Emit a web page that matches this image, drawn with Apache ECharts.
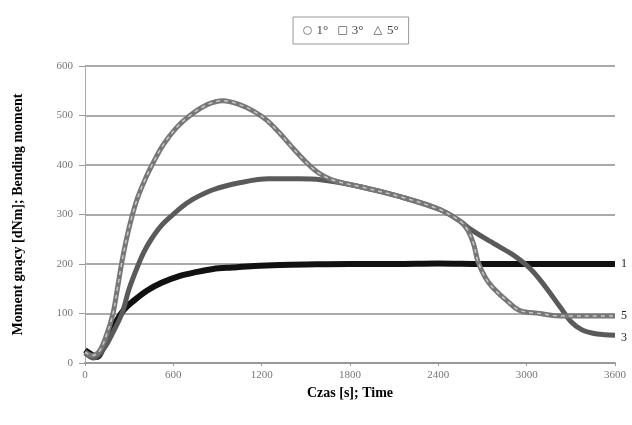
<!DOCTYPE html>
<html>
<head>
<meta charset="utf-8">
<script src="https://cdn.jsdelivr.net/npm/echarts@6/dist/echarts.min.js"></script>
<style>
  html, body { margin: 0; padding: 0; background: #fff; }
  #chart { width: 632px; height: 425px; }
</style>
</head>
<body>
<div id="chart"></div>
<script>
// osie
const xTicks = [0, 600, 1200, 1800, 2400, 3000, 3600]
const yTicks = [0, 100, 200, 300, 400, 500, 600]

// 1 stopień
const time1 = [0, 40, 80, 130, 190, 260, 340, 420, 520, 645, 760, 870, 1000, 1150, 1325, 1500, 1800, 2100, 2400, 2700, 3000, 3300, 3600]
const moment1 = [26, 18, 12, 35, 72, 106, 128, 146, 162, 176, 184, 190, 193, 196, 198, 199, 200, 200, 201, 200, 200, 200, 200]

// 3 stopnie
const time3 = [0, 60, 130, 190, 251, 300, 353, 400, 450, 520, 598, 670, 740, 870, 1050, 1250, 1450, 1600, 1870, 2140, 2410, 2550, 2620, 2750, 2900, 2960, 3020, 3080, 3150, 3230, 3300, 3370, 3450, 3530, 3600]
const moment3 = [20, 10, 30, 62, 100, 150, 192, 224, 250, 278, 300, 318, 332, 350, 364, 372, 372, 370, 356, 336, 310, 286, 270, 246, 220, 207, 192, 172, 145, 112, 84, 68, 60, 57, 56]

// 5 stopni
const time5 = [0, 50, 100, 150, 190, 220, 245, 280, 319, 360, 410, 455, 530, 620, 713, 830, 937, 1050, 1150, 1236, 1320, 1400, 1494, 1560, 1620, 1700, 1870, 2140, 2410, 2550, 2600, 2640, 2669, 2720, 2771, 2880, 2955, 3090, 3179, 3300, 3450, 3600]
const moment5 = [22, 15, 25, 60, 100, 150, 195, 248, 296, 336, 372, 400, 440, 475, 500, 522, 530, 522, 508, 490, 465, 438, 408, 390, 378, 368, 356, 336, 310, 286, 268, 240, 205, 172, 152, 122, 106, 100, 96, 95, 95, 95]

const pairs = (t, v) => t.map((x, i) => [x, v[i]])

const serif = '"Liberation Serif", "DejaVu Serif", serif'

const chart = echarts.init(document.getElementById('chart'))
chart.setOption({
  animation: false,
  backgroundColor: '#fff',
  grid: { left: 85, right: 17, top: 66, bottom: 62 },
  legend: {
    left: 293,
    top: 17,
    padding: [7, 10],
    borderColor: '#999',
    borderWidth: 1,
    itemWidth: 8,
    itemHeight: 8,
    itemGap: 10,
    textStyle: { fontFamily: serif, fontSize: 13, color: '#444' },
    data: [
      { name: '1°', icon: 'circle', itemStyle: { color: '#fff', borderColor: '#888', borderWidth: 1 } },
      { name: '3°', icon: 'rect', itemStyle: { color: '#fff', borderColor: '#888', borderWidth: 1 } },
      { name: '5°', icon: 'triangle', itemStyle: { color: '#fff', borderColor: '#888', borderWidth: 1 } }
    ]
  },
  xAxis: {
    type: 'value',
    min: xTicks[0],
    max: xTicks[xTicks.length - 1],
    interval: 600,
    name: 'Czas [s]; Time',
    nameLocation: 'middle',
    nameGap: 23,
    nameTextStyle: { fontFamily: serif, fontSize: 14, fontWeight: 'bold', color: '#000' },
    axisLine: { lineStyle: { color: '#999', width: 2 } },
    axisTick: { show: true, length: 3, lineStyle: { color: '#999' } },
    axisLabel: { fontFamily: serif, fontSize: 11, color: '#777', margin: 7, formatter: v => String(v) },
    splitLine: { show: false }
  },
  yAxis: {
    type: 'value',
    min: yTicks[0],
    max: yTicks[yTicks.length - 1],
    interval: 100,
    name: 'Moment gnący [dNm]; Bending moment',
    nameLocation: 'middle',
    nameGap: 60,
    nameTextStyle: { fontFamily: serif, fontSize: 14, fontWeight: 'bold', color: '#000' },
    axisLine: { show: true, lineStyle: { color: '#aaa', width: 1 } },
    axisTick: { show: true, length: 6, lineStyle: { color: '#999' } },
    axisLabel: { fontFamily: serif, fontSize: 11, color: '#777', margin: 12 },
    splitLine: { lineStyle: { color: '#aaa', width: 2 } }
  },
  series: [
    {
      name: '1°',
      type: 'line',
      smooth: 0.35,
      showSymbol: false,
      z: 3,
      lineStyle: { color: '#111', width: 6 },
      itemStyle: { color: '#111' },
      endLabel: { show: true, formatter: '1', fontFamily: serif, fontSize: 12, color: '#222', distance: 6 },
      data: pairs(time1, moment1)
    },
    {
      name: '3°',
      type: 'line',
      smooth: 0.35,
      showSymbol: false,
      z: 4,
      lineStyle: { color: '#5a5a5a', width: 5 },
      itemStyle: { color: '#5a5a5a' },
      endLabel: { show: true, formatter: '3', fontFamily: serif, fontSize: 12, color: '#222', distance: 6, offset: [0, 3] },
      data: pairs(time3, moment3)
    },
    {
      name: '5°',
      type: 'line',
      smooth: 0.35,
      showSymbol: false,
      z: 5,
      lineStyle: { color: '#777', width: 5 },
      itemStyle: { color: '#777' },
      endLabel: { show: true, formatter: '5', fontFamily: serif, fontSize: 12, color: '#222', distance: 6 },
      data: pairs(time5, moment5)
    },
    {
      // jasne znaczniki na krzywej 5°
      name: '5° markers',
      type: 'line',
      smooth: 0.35,
      showSymbol: false,
      silent: true,
      z: 6,
      lineStyle: { color: '#c8c8c8', width: 1.5, type: [4, 4] },
      data: pairs(time5, moment5)
    }
  ]
})
</script>
</body>
</html>
